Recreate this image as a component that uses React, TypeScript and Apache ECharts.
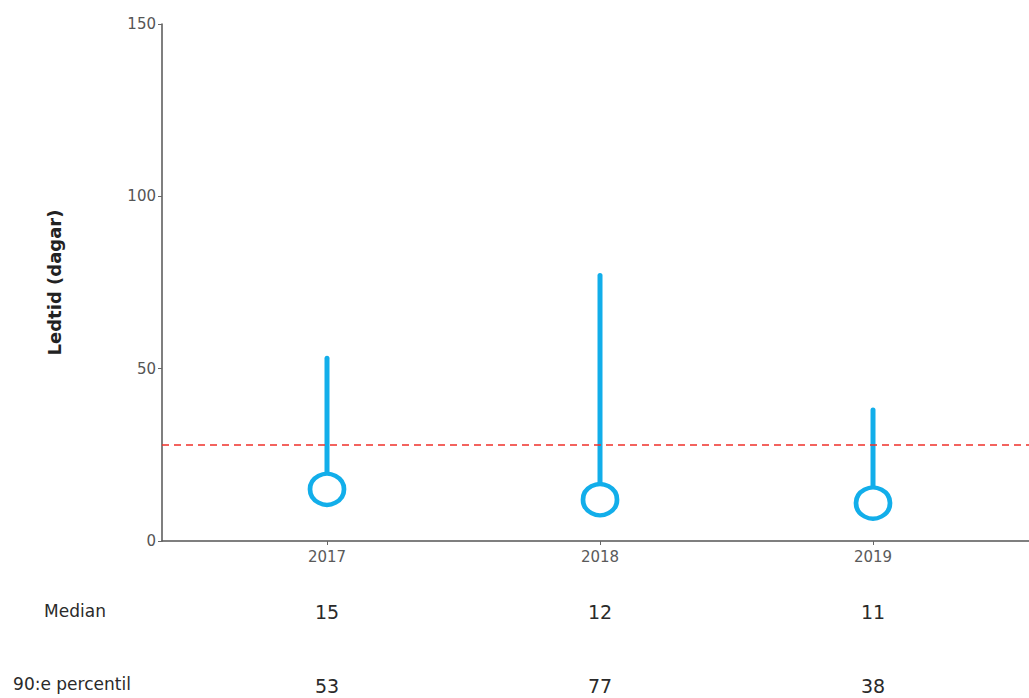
import React, { useEffect, useRef } from "react";
import * as echarts from "echarts";

const years = ["2017", "2018", "2019"];
const medians = [15, 12, 11];
const p90 = [53, 77, 38];
const targetLine = 28;
const yTicks = [0, 50, 100, 150];
const rowLabels = ["Median", "90:e percentil"];

const FONT = "DejaVu Sans, Liberation Sans, Arial, sans-serif";
const BLUE = "#12aeea";

export default function App() {
  const ref = useRef<HTMLDivElement>(null);
  useEffect(() => {
    const chart = echarts.init(ref.current!, null, { renderer: "svg" });
    const pos = years.map((_, i) => i + 1);
    const baseX = {
      type: "value" as const,
      min: 0.3956,
      max: 3.5714,
      splitLine: { show: false },
    };
    chart.setOption({
      animation: false,
      textStyle: { fontFamily: FONT },
      grid: { left: 162, right: 0, top: 24, bottom: 157 },
      xAxis: [
        {
          ...baseX,
          axisLine: { lineStyle: { color: "#555", width: 1.5 } },
          axisTick: { show: true, length: 4, lineStyle: { color: "#666" }, customValues: pos },
          axisLabel: {
            customValues: pos,
            formatter: (v: number) => years[Math.round(v) - 1] ?? "",
            color: "#5a5a5a",
            fontSize: 15,
            margin: 8,
          },
        },
        {
          ...baseX,
          position: "bottom",
          offset: 61,
          axisLine: { show: false },
          axisTick: { show: false },
          axisLabel: {
            customValues: pos,
            formatter: (v: number) => String(medians[Math.round(v) - 1] ?? ""),
            color: "#2a2a2a",
            fontSize: 19,
            margin: 0,
          },
        },
        {
          ...baseX,
          position: "bottom",
          offset: 135,
          axisLine: { show: false },
          axisTick: { show: false },
          axisLabel: {
            customValues: pos,
            formatter: (v: number) => String(p90[Math.round(v) - 1] ?? ""),
            color: "#2a2a2a",
            fontSize: 19,
            margin: 0,
          },
        },
      ],
      yAxis: {
        type: "value",
        min: 0,
        max: 150,
        interval: 50,
        name: "Ledtid (dagar)",
        nameLocation: "middle",
        nameGap: 99,
        nameTextStyle: { fontSize: 18, fontWeight: "bold", color: "#222" },
        splitLine: { show: false },
        axisLine: { show: true, lineStyle: { color: "#555", width: 1.5 } },
        axisTick: { show: true, length: 4, lineStyle: { color: "#666" } },
        axisLabel: {
          color: "#555",
          fontSize: 15,
          margin: 6,
          formatter: (v: number) => (yTicks.includes(v) ? String(v) : ""),
        },
      },
      graphic: [
        {
          type: "text",
          x: 75,
          y: 611,
          style: { text: rowLabels[0], font: `17px ${FONT}`, fill: "#2a2a2a", align: "center", verticalAlign: "middle" },
        },
        {
          type: "text",
          x: 72,
          y: 684,
          style: { text: rowLabels[1], font: `17px ${FONT}`, fill: "#2a2a2a", align: "center", verticalAlign: "middle" },
        },
      ],
      series: [
        {
          type: "custom",
          xAxisIndex: 0,
          data: pos.map((x, i) => [x, medians[i], p90[i]]),
          renderItem: (params: any, api: any) => {
            const a = api.coord([api.value(0), api.value(1)]);
            const b = api.coord([api.value(0), api.value(2)]);
            return {
              type: "line",
              shape: { x1: a[0], y1: a[1], x2: b[0], y2: b[1] },
              style: { stroke: BLUE, lineWidth: 5, lineCap: "round" },
            };
          },
          z: 2,
        },
        {
          type: "scatter",
          xAxisIndex: 0,
          data: pos.map((x, i) => [x, medians[i]]),
          symbol: "circle",
          symbolSize: [34, 31],
          itemStyle: { color: "#fff", borderColor: BLUE, borderWidth: 4.5, opacity: 1 },
          z: 3,
          markLine: {
            silent: true,
            symbol: "none",
            label: { show: false },
            lineStyle: { color: "#f0302a", type: [7, 5], width: 1.5 },
            data: [{ yAxis: targetLine }],
          },
        },
      ],
    });
    return () => chart.dispose();
  }, []);
  return (
    <div
      ref={ref}
      style={{ position: "fixed", left: 0, top: 0, width: 1029, height: 698, background: "#fff" }}
    />
  );
}
